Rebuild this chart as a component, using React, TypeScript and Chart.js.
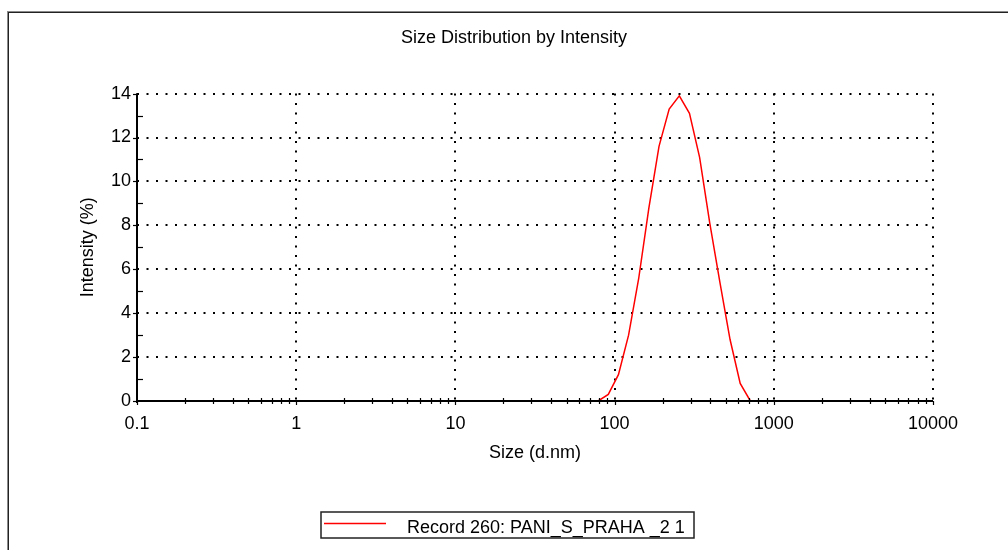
import { useEffect, useRef } from "react";
import { Chart, registerables } from "chart.js";

Chart.register(...registerables);

// ---- data ----
const sizes: number[] = [
  0.4, 0.4632, 0.5365, 0.6213, 0.7195, 0.8332, 0.9649, 1.117, 1.294, 1.499,
  1.736, 2.01, 2.328, 2.696, 3.122, 3.615, 4.187, 4.849, 5.615, 6.503,
  7.531, 8.721, 10.1, 11.7, 13.54, 15.69, 18.17, 21.04, 24.36, 28.21,
  32.67, 37.84, 43.82, 50.75, 58.77, 68.06, 78.82, 91.28, 105.7, 122.4,
  141.8, 164.2, 190.1, 220.2, 255.0, 295.3, 342.0, 396.1, 458.7, 531.2,
  615.1, 712.4, 825.0, 955.4, 1106, 1281, 1484, 1718, 1990, 2305,
  2669, 3091, 3580, 4145, 4801, 5560, 6439, 7456, 8635, 10000,
];
const intensity: number[] = [
  0, 0, 0, 0, 0, 0, 0, 0, 0, 0,
  0, 0, 0, 0, 0, 0, 0, 0, 0, 0,
  0, 0, 0, 0, 0, 0, 0, 0, 0, 0,
  0, 0, 0, 0, 0, 0, 0, 0.3, 1.2, 3.0,
  5.6, 8.8, 11.6, 13.3, 13.9, 13.1, 11.1, 8.1, 5.4, 2.8,
  0.8, 0, 0, 0, 0, 0, 0, 0, 0, 0,
  0, 0, 0, 0, 0, 0, 0, 0, 0, 0,
];
const xMajorTicks: number[] = [0.1, 1, 10, 100, 1000, 10000];
const xMinorMultipliers: number[] = [2, 3, 4, 5, 6, 7, 8, 9];
const yMajorTicks: number[] = [0, 2, 4, 6, 8, 10, 12, 14];
const yMinorTicks: number[] = [1, 3, 5, 7, 9, 11, 13];

const chartTitle = "Size Distribution by Intensity";
const xAxisTitle = "Size (d.nm)";
const yAxisTitle = "Intensity (%)";
const seriesLabel = "Record 260: PANI_S_PRAHA _2 1";

const FONT = "'Liberation Sans', Arial, Helvetica, sans-serif";

const decorPlugin = {
  id: "decor",
  afterDatasetsDraw(chart: any) {
    const { ctx, scales } = chart;
    const x = scales.x;
    const y = scales.y;
    const x0 = x.getPixelForValue(xMajorTicks[0]);
    const x1 = x.getPixelForValue(xMajorTicks[xMajorTicks.length - 1]);
    const y0 = y.getPixelForValue(0);
    const yTop = y.getPixelForValue(yMajorTicks[yMajorTicks.length - 1]);
    const line = (a: number, b: number, c: number, d: number) => {
      ctx.beginPath();
      ctx.moveTo(a, b);
      ctx.lineTo(c, d);
      ctx.stroke();
    };
    ctx.save();
    ctx.strokeStyle = "#000";
    // ticks
    ctx.lineWidth = 1.2;
    yMajorTicks.forEach((v) => {
      const py = Math.round(y.getPixelForValue(v)) + 0.5;
      line(x0 - 4, py, x0, py);
    });
    yMinorTicks.forEach((v) => {
      const py = Math.round(y.getPixelForValue(v)) + 0.5;
      line(x0, py, x0 + 6, py);
    });
    xMajorTicks.forEach((v) => {
      const px = Math.round(x.getPixelForValue(v)) + 0.5;
      line(px, y0, px, y0 + 4);
    });
    xMajorTicks.slice(0, -1).forEach((d) => {
      xMinorMultipliers.forEach((m) => {
        const px = Math.round(x.getPixelForValue(d * m)) + 0.5;
        line(px, y0 - 3, px, y0 + 3);
      });
    });
    // axis lines
    ctx.lineWidth = 2;
    line(x0, y0, x1, y0);
    line(x0, yTop, x0, y0 + 2);
    ctx.restore();
  },
  afterDraw(chart: any) {
    const { ctx } = chart;
    ctx.save();
    // outer frame (top + left)
    ctx.fillStyle = "#8a8a8a";
    ctx.fillRect(7, 11, 1001, 1);
    ctx.fillRect(7, 11, 1, 539);
    ctx.fillStyle = "#222";
    ctx.fillRect(8, 12, 1000, 1);
    ctx.fillRect(8, 12, 1, 538);
    // legend box
    ctx.strokeStyle = "#222";
    ctx.lineWidth = 1.5;
    ctx.strokeRect(321, 512, 373, 26);
    ctx.strokeStyle = "#ff0000";
    ctx.lineWidth = 1.5;
    ctx.beginPath();
    ctx.moveTo(324, 523.5);
    ctx.lineTo(386, 523.5);
    ctx.stroke();
    ctx.fillStyle = "#000";
    ctx.font = `18px ${FONT}`;
    ctx.textBaseline = "alphabetic";
    ctx.textAlign = "left";
    ctx.fillText(seriesLabel, 407, 533);
    ctx.restore();
  },
};

export default function App() {
  const ref = useRef<HTMLCanvasElement>(null);
  useEffect(() => {
    const canvas = ref.current;
    if (!canvas) return;
    const points = sizes.map((s, i) => ({ x: s, y: intensity[i] }));
    const chart = new Chart(canvas, {
      type: "line",
      data: {
        datasets: [
          {
            label: seriesLabel,
            data: points,
            borderColor: "#ff0000",
            borderWidth: 1.5,
            pointRadius: 0,
            tension: 0,
            fill: false,
          },
        ],
      },
      plugins: [decorPlugin],
      options: {
        animation: false,
        responsive: false,
        maintainAspectRatio: false,
        devicePixelRatio: 1,
        layout: { padding: { left: 95, right: 75, top: 0, bottom: 0 } },
        plugins: {
          legend: { display: false },
          tooltip: { enabled: false },
          title: {
            display: true,
            text: chartTitle,
            color: "#000",
            font: { family: FONT, size: 18, weight: "normal" },
            padding: { top: 27.5, bottom: 44.5 },
          },
        },
        scales: {
          x: {
            type: "logarithmic",
            min: 0.1,
            max: 10000,
            afterBuildTicks: (scale: any) => {
              scale.ticks = xMajorTicks.map((v) => ({ value: v }));
            },
            afterFit: (scale: any) => {
              scale.height = 149;
            },
            ticks: {
              autoSkip: false,
              maxRotation: 0,
              padding: 12.5,
              color: "#000",
              font: { family: FONT, size: 18 },
              callback: (v: any) => String(v),
            },
            grid: { color: "#000", lineWidth: 2, drawTicks: false },
            border: { display: false, dash: [2, 7.5] },
            title: {
              display: true,
              text: xAxisTitle,
              color: "#000",
              font: { family: FONT, size: 18 },
              padding: { top: 0, bottom: 86.5 },
            },
          },
          y: {
            type: "linear",
            min: 0,
            max: 14,
            afterBuildTicks: (scale: any) => {
              scale.ticks = yMajorTicks.map((v) => ({ value: v }));
            },
            afterFit: (scale: any) => {
              scale.width = 42;
            },
            ticks: {
              padding: 6,
              color: "#000",
              font: { family: FONT, size: 18 },
              callback: (v: any) => String(v),
            },
            grid: { color: "#000", lineWidth: 2, drawTicks: false },
            border: { display: false, dash: [2, 7.5] },
            title: {
              display: true,
              text: yAxisTitle,
              color: "#000",
              font: { family: FONT, size: 18 },
              padding: { top: -17.8, bottom: 0 },
            },
          },
        },
      },
    } as any);
    return () => chart.destroy();
  }, []);
  return (
    <canvas
      ref={ref}
      width={1008}
      height={550}
      style={{ position: "absolute", left: 0, top: 0, width: 1008, height: 550, display: "block" }}
    />
  );
}
